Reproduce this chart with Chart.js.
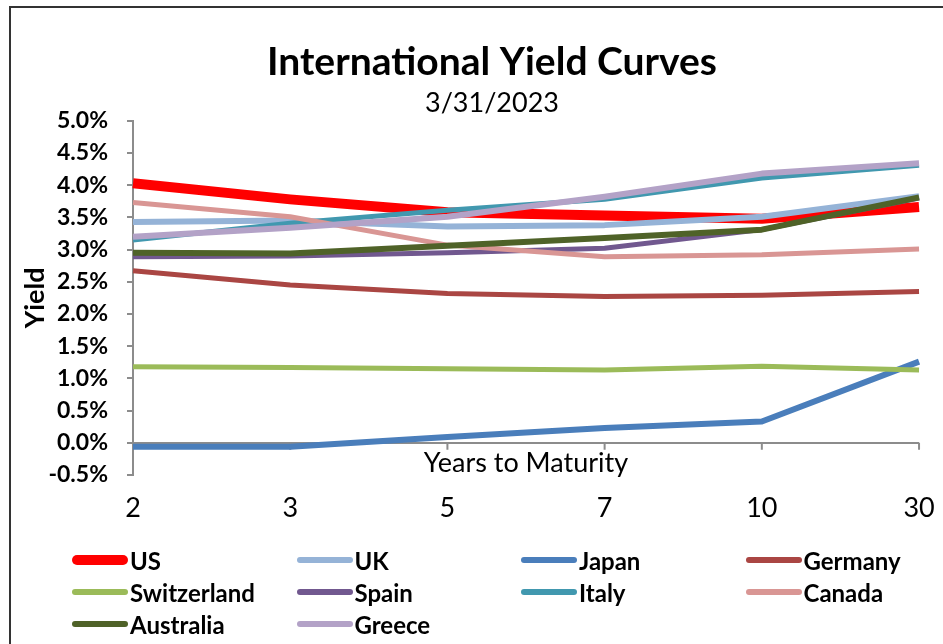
<!DOCTYPE html>
<html>
<head>
<meta charset="utf-8">
<script src="https://cdn.jsdelivr.net/npm/chart.js@4/dist/chart.umd.min.js"></script>
<style>
html,body{margin:0;padding:0;background:#fff;}
#wrap{position:relative;width:943px;height:644px;overflow:hidden;background:#fff;}
#frame{position:absolute;left:9px;top:6px;width:960px;height:660px;border-left:2px solid #333;border-top:2px solid #333;pointer-events:none;}
#c{position:absolute;left:0;top:0;}
#legend{position:absolute;left:0;top:0;width:943px;height:644px;pointer-events:none;font-family:Lato,"Open Sans",sans-serif;font-weight:bold;font-size:24px;color:#000;}
.item{position:absolute;display:flex;align-items:center;height:30px;white-space:nowrap;}
.sw{width:56px;border-radius:5px;margin-right:2px;}
</style>
</head>
<body>
<div id="wrap">
<canvas id="c" width="943" height="644"></canvas>
<div id="frame"></div>
<div id="legend"></div>
</div>
<script>
const maturities = ['2','3','5','7','10','30'];
const seriesNames = ['US','UK','Japan','Germany','Switzerland','Spain','Italy','Canada','Australia','Greece'];
const us          = [4.03, 3.78, 3.58, 3.53, 3.48, 3.66];
const uk          = [3.43, 3.45, 3.36, 3.38, 3.51, 3.83];
const japan       = [-0.06, -0.06, 0.09, 0.23, 0.33, 1.26];
const germany     = [2.67, 2.45, 2.32, 2.27, 2.29, 2.35];
const switzerland = [1.18, 1.17, 1.15, 1.13, 1.19, 1.13];
const spain       = [2.89, 2.90, 2.95, 3.02, 3.31, 3.80];
const italy       = [3.15, 3.41, 3.61, 3.78, 4.11, 4.31];
const canada      = [3.73, 3.51, 3.07, 2.89, 2.92, 3.01];
const australia   = [2.95, 2.94, 3.06, 3.18, 3.31, 3.81];
const greece      = [3.20, 3.34, 3.51, 3.82, 4.18, 4.34];
const yTickValues = [-0.5,0,0.5,1,1.5,2,2.5,3,3.5,4,4.5,5];

const seriesValues = [us, uk, japan, germany, switzerland, spain, italy, canada, australia, greece];
const colors = ['#FF0000','#95B3D7','#4A7EBB','#AA4643','#9BBB59','#71588F','#4198AF','#D99694','#4F6228','#B3A2C7'];
const widths = [10,6,6,5,5,5,5,5,6,6];
const FONT = 'Lato, "Open Sans", sans-serif';

const datasets = seriesNames.map((n,i)=>({
  label:n,
  data:seriesValues[i],
  borderColor:colors[i],
  backgroundColor:colors[i],
  borderWidth:widths[i],
  pointRadius:0,
  tension:0,
  fill:false,
  borderJoinStyle:'round',
  borderCapStyle:'butt',
  order:seriesNames.length - i
}));

const zeroTicks = {
  id:'zeroTicks',
  beforeDatasetsDraw(chart){
    const {ctx, scales:{x,y}} = chart;
    const y0 = y.getPixelForValue(0);
    ctx.save();
    ctx.strokeStyle = '#8c8c8c';
    ctx.lineWidth = 2;
    ctx.beginPath();
    x.ticks.forEach((t,i)=>{
      if(i===0) return;
      const px = x.getPixelForTick(i);
      ctx.moveTo(px, y0);
      ctx.lineTo(px, y0+7);
    });
    ctx.stroke();
    ctx.restore();
  }
};

new Chart(document.getElementById('c'), {
  type:'line',
  data:{labels:maturities, datasets},
  options:{
    responsive:false,
    animation:false,
    events:[],
    layout:{padding:{left:45,right:4,top:0,bottom:0}},
    plugins:{
      legend:{display:false},
      tooltip:{enabled:false},
      title:{display:true,text:'International Yield Curves',color:'#000',
        font:{family:FONT,size:39,weight:'bold',lineHeight:1.2},padding:{top:38.6,bottom:0}},
      subtitle:{display:true,text:'3/31/2023',color:'#000',
        font:{family:FONT,size:27,weight:'normal',lineHeight:1.2},padding:{top:1.5,bottom:1.5}}
    },
    scales:{
      x:{
        grid:{display:false,drawTicks:true,tickLength:8.7},
        border:{display:false},
        ticks:{color:'#000',font:{family:FONT,size:27,lineHeight:1.2},padding:8.3,maxRotation:0},
        title:{display:true,text:'Years to Maturity',color:'#000',
          font:{family:FONT,size:27,lineHeight:1.2},padding:{top:0,bottom:165}},
        afterFit(s){ s.height = 169; }
      },
      y:{
        min:-0.5,max:5,
        afterBuildTicks(s){ s.ticks = yTickValues.map(v=>({value:v})); },
        ticks:{color:'#000',font:{family:FONT,size:23,weight:'bold'},padding:19,
          callback:(v)=>Number(v).toFixed(1)+'%'},
        grid:{color:(c)=> (c.tick && c.tick.value===0) ? '#8c8c8c' : 'rgba(0,0,0,0)',
          tickColor:'#8c8c8c',tickLength:6,lineWidth:2,drawTicks:true},
        border:{display:true,color:'#8c8c8c',width:2},
        title:{display:true,text:'Yield',color:'#000',
          font:{family:FONT,size:27,weight:'bold',lineHeight:1.2},padding:{top:-26.2,bottom:0}},
        afterFit(s){ s.width = 88; }
      }
    }
  },
  plugins:[zeroTicks]
});

// HTML legend built from the series
const leg = document.getElementById('legend');
seriesNames.forEach((n,i)=>{
  const col = i % 4, row = Math.floor(i/4);
  const d = document.createElement('div');
  d.className = 'item';
  d.style.left = (72 + col*224.5) + 'px';
  d.style.top = (545 + row*32) + 'px';
  const sw = document.createElement('span');
  sw.className = 'sw';
  sw.style.background = colors[i];
  sw.style.height = (i===0 ? 10 : 6) + 'px';
  const t = document.createElement('span');
  t.textContent = n;
  d.appendChild(sw); d.appendChild(t);
  leg.appendChild(d);
});
</script>
</body>
</html>
